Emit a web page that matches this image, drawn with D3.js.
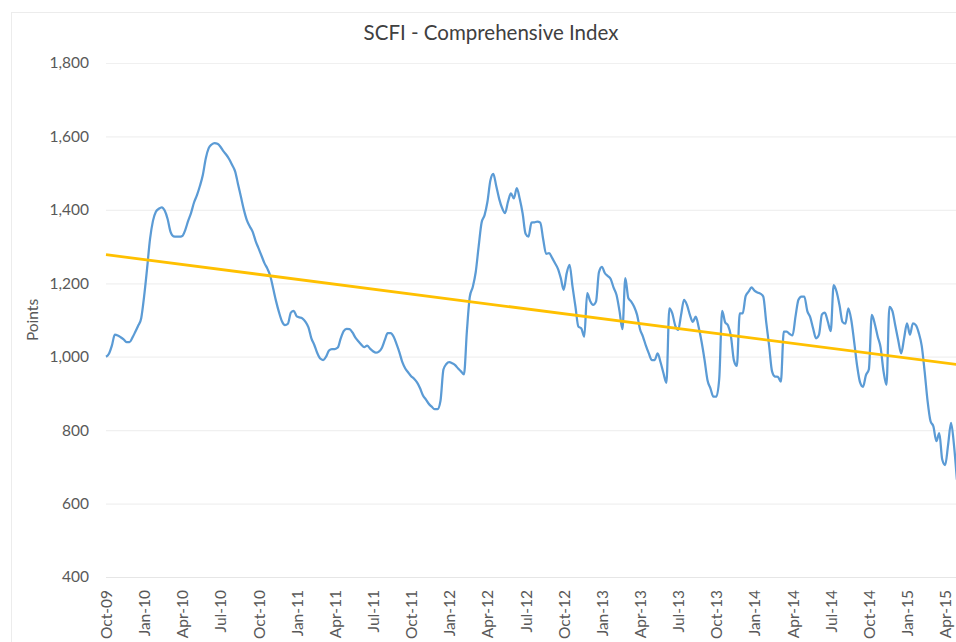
<!DOCTYPE html>
<html>
<head>
<meta charset="utf-8">
<script src="https://cdnjs.cloudflare.com/ajax/libs/d3/7.8.5/d3.min.js"></script>
<style>
  html, body { margin: 0; padding: 0; background: #fff; }
  svg { display: block; font-family: Lato, "Open Sans", sans-serif; }
</style>
</head>
<body>
<div id="chart"></div>
<script>
// weekly SCFI readings, week 0 = first index week (Oct-09)
const weeks = [
  0, 1, 2, 3, 4, 5, 6, 7, 8, 9, 10, 11, 12, 13, 14, 15, 16, 17, 18, 19,
  20, 21, 22, 23, 24, 25, 26, 27, 28, 29, 30, 31, 32, 33, 34, 35, 36, 37, 38, 39,
  40, 41, 42, 43, 44, 45, 46, 47, 48, 49, 50, 51, 52, 53, 54, 55, 56, 57, 58, 59,
  60, 61, 62, 63, 64, 65, 66, 67, 68, 69, 70, 71, 72, 73, 74, 75, 76, 77, 78, 79,
  80, 81, 82, 83, 84, 85, 86, 87, 88, 89, 90, 91, 92, 93, 94, 95, 96, 97, 98, 99,
  100, 101, 102, 103, 104, 105, 106, 107, 108, 109, 110, 111, 112, 113, 114, 115, 116, 117, 118, 119,
  120, 121, 122, 123, 124, 125, 126, 127, 128, 129, 130, 131, 132, 133, 134, 135, 136, 137, 138, 139,
  140, 141, 142, 143, 144, 145, 146, 147, 148, 149, 150, 151, 152, 153, 154, 155, 156, 157, 158, 159,
  160, 161, 162, 163, 164, 165, 166, 167, 168, 169, 170, 171, 172, 173, 174, 175, 176, 177, 178, 179,
  180, 181, 182, 183, 184, 185, 186, 187, 188, 189, 190, 191, 192, 193, 194, 195, 196, 197, 198, 199,
  200, 201, 202, 203, 204, 205, 206, 207, 208, 209, 210, 211, 212, 213, 214, 215, 216, 217, 218, 219,
  220, 221, 222, 223, 224, 225, 226, 227, 228, 229, 230, 231, 232, 233, 234, 235, 236, 237, 238, 239,
  240, 241, 242, 243, 244, 245, 246, 247, 248, 249, 250, 251, 252, 253, 254, 255, 256, 257, 258, 259,
  260, 261, 262, 263, 264, 265, 266, 267, 268, 269, 270, 271, 272, 273, 274, 275, 276, 277, 278, 279,
  280, 281, 282, 283, 284, 285, 286, 287, 288, 289, 290
];

const values = [
  1000, 1008, 1030, 1060, 1058, 1053, 1047, 1040, 1040, 1052, 1068, 1085, 1105, 1165, 1240, 1320, 1370, 1395, 1403, 1407,
  1398, 1375, 1340, 1328, 1327, 1327, 1329, 1345, 1370, 1392, 1420, 1440, 1465, 1495, 1540, 1568, 1578, 1582, 1580, 1572,
  1560, 1550, 1538, 1522, 1505, 1470, 1435, 1400, 1372, 1355, 1340, 1315, 1295, 1275, 1255, 1240, 1220, 1185, 1150, 1120,
  1096, 1086, 1090, 1120, 1125, 1110, 1107, 1104, 1095, 1080, 1050, 1032, 1010, 995, 991, 1000, 1017, 1021, 1021, 1025,
  1050, 1070, 1076, 1075, 1066, 1052, 1042, 1033, 1026, 1030, 1022, 1015, 1011, 1014, 1024, 1045, 1064, 1064, 1055, 1035,
  1012, 985, 968, 957, 947, 940, 930, 915, 895, 884, 872, 864, 857, 857, 880, 965, 980, 985, 982, 977,
  968, 960, 952, 1070, 1164, 1190, 1230, 1300, 1365, 1385, 1422, 1480, 1498, 1465, 1430, 1405, 1391, 1422, 1445, 1431,
  1459, 1430, 1390, 1335, 1327, 1365, 1366, 1368, 1365, 1320, 1280, 1282, 1270, 1255, 1240, 1214, 1182, 1227, 1250, 1191,
  1136, 1082, 1077, 1055, 1173, 1152, 1141, 1150, 1230, 1245, 1228, 1220, 1212, 1188, 1168, 1125, 1075, 1214, 1160, 1150,
  1136, 1114, 1075, 1055, 1030, 1009, 991, 991, 1009, 985, 955, 929, 1132, 1118, 1085, 1073, 1114, 1155, 1141, 1114,
  1095, 1109, 1080, 1040, 991, 936, 914, 891, 891, 940, 1125, 1094, 1085, 1055, 990, 975, 1118, 1118, 1165, 1177,
  1189, 1180, 1175, 1172, 1164, 1095, 1030, 960, 946, 945, 932, 1068, 1068, 1062, 1058, 1110, 1155, 1164, 1164, 1125,
  1108, 1077, 1050, 1060, 1115, 1120, 1096, 1070, 1195, 1177, 1140, 1095, 1090, 1132, 1100, 1040, 975, 930, 918, 950,
  966, 1114, 1090, 1055, 1025, 960, 923, 1136, 1125, 1085, 1045, 1009, 1050, 1091, 1060, 1091, 1086, 1065, 1030, 960,
  880, 825, 810, 770, 792, 720, 705, 760, 820, 760, 665
];

// linear trend line end points (week, value)
const trendWeeks = [0, 290];
const trendValues = [1278, 979];

// quarterly category labels, one every 13 weeks
const tickLabels = [
  'Oct-09', 'Jan-10', 'Apr-10', 'Jul-10', 'Oct-10', 'Jan-11', 'Apr-11', 'Jul-11',
  'Oct-11', 'Jan-12', 'Apr-12', 'Jul-12', 'Oct-12', 'Jan-13', 'Apr-13', 'Jul-13',
  'Oct-13', 'Jan-14', 'Apr-14', 'Jul-14', 'Oct-14', 'Jan-15', 'Apr-15'
];
const yTicks = [400, 600, 800, 1000, 1200, 1400, 1600, 1800];

const width = 956;
const height = 642;

const svg = d3.select('#chart')
  .append('svg')
  .attr('width', width)
  .attr('height', height);

// faint chart border (cropped at right and bottom)
svg.append('rect')
  .attr('x', 11.5)
  .attr('y', 12.5)
  .attr('width', 1000)
  .attr('height', 1000)
  .attr('fill', 'none')
  .attr('stroke', '#ececec');

const x = d3.scaleLinear()
  .domain([0, 290])
  .range([106, 956.9]);

const y = d3.scaleLinear()
  .domain([400, 1800])
  .range([577, 63]);

// Gridlines
svg.append('g')
  .selectAll('line')
  .data(yTicks)
  .enter()
  .append('line')
  .attr('x1', x(0))
  .attr('x2', width)
  .attr('y1', d => y(d) + 0.5)
  .attr('y2', d => y(d) + 0.5)
  .attr('stroke', d => d === 400 ? '#e6e6e6' : '#f0f0f0')
  .attr('stroke-width', 1.2);

// Y axis labels
const yAxis = svg.append('g')
  .attr('transform', `translate(${x(0) - 17}, 0)`)
  .call(d3.axisLeft(y).tickValues(yTicks).tickSize(0).tickPadding(0).tickFormat(d3.format(',')));
yAxis.select('.domain').remove();
yAxis.selectAll('text')
  .attr('font-size', '15.5px')
  .attr('fill', '#595959')
  .style('font-family', 'Lato, "Open Sans", sans-serif');

// X axis labels, rotated
const xAxis = svg.append('g')
  .attr('transform', `translate(0, ${y(400) + 13})`)
  .call(d3.axisBottom(x)
    .tickValues(tickLabels.map((d, i) => i * 13))
    .tickSize(0)
    .tickFormat((d, i) => tickLabels[i]));
xAxis.select('.domain').remove();
xAxis.selectAll('text')
  .attr('transform', 'rotate(-90)')
  .attr('x', 0)
  .attr('y', 0)
  .attr('dy', '0.35em')
  .style('text-anchor', 'end')
  .attr('font-size', '15.5px')
  .attr('fill', '#595959')
  .style('font-family', 'Lato, "Open Sans", sans-serif');

// Y axis title
svg.append('text')
  .attr('transform', `translate(38, ${(y(400) + y(1800)) / 2}) rotate(-90)`)
  .attr('text-anchor', 'middle')
  .attr('font-size', '15.5px')
  .attr('fill', '#595959')
  .text('Points');

// Title
svg.append('text')
  .attr('x', 491)
  .attr('y', 40)
  .attr('text-anchor', 'middle')
  .attr('font-size', '20.5px')
  .attr('fill', '#404040')
  .text('SCFI - Comprehensive Index');

svg.append('clipPath')
  .attr('id', 'plot-clip')
  .append('rect')
  .attr('x', 100)
  .attr('y', 0)
  .attr('width', width - 100)
  .attr('height', height);

const series = weeks.map((w, i) => ({ week: w, value: values[i] }));
const trend = trendWeeks.map((w, i) => ({ week: w, value: trendValues[i] }));

const line = d3.line()
  .x(d => x(d.week))
  .y(d => y(d.value))
  .curve(d3.curveMonotoneX);

svg.append('path')
  .datum(series)
  .attr('clip-path', 'url(#plot-clip)')
  .attr('d', line)
  .attr('fill', 'none')
  .attr('stroke', '#5b9bd5')
  .attr('stroke-width', 2.25)
  .attr('stroke-linejoin', 'round');

svg.append('path')
  .datum(trend)
  .attr('clip-path', 'url(#plot-clip)')
  .attr('d', d3.line().x(d => x(d.week)).y(d => y(d.value)))
  .attr('fill', 'none')
  .attr('stroke', '#ffc000')
  .attr('stroke-width', 2.75);
</script>
</body>
</html>
